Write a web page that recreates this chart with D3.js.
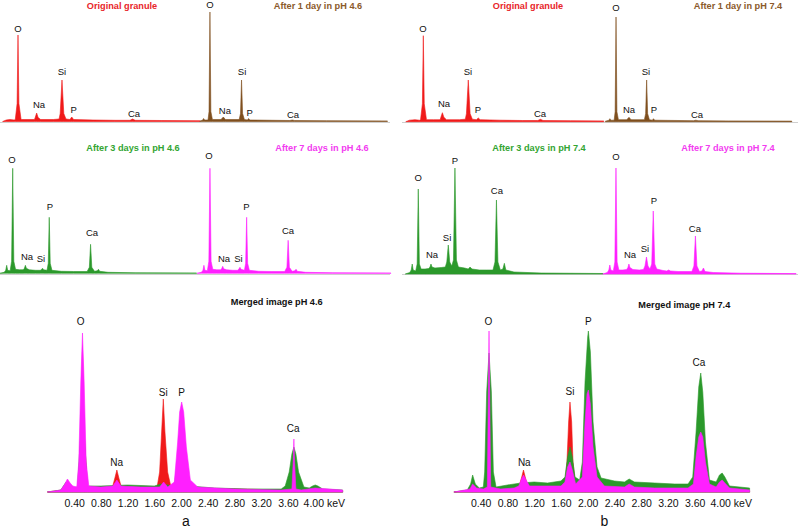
<!DOCTYPE html>
<html><head><meta charset="utf-8">
<script src="https://cdn.jsdelivr.net/npm/d3@7"></script>
<style>body{margin:0;background:#fff} svg{display:block;font-family:"Liberation Sans",Arial,sans-serif}</style>
</head><body><svg id="c" width="798" height="529"></svg>
<script>
// ---------- DATA (keV, relative counts) ----------
const origLeft = [[0.1,0],[0.2,1.5],[0.3,2],[0.42,1.5],[0.45,2],[0.50,18],[0.525,86.5],[0.55,18],[0.61,2],[0.8,2],[0.98,2],[1.0,4],[1.04,8.5],[1.08,4],[1.15,2],[1.5,2],[1.66,2.5],[1.69,8],[1.74,41.5],[1.79,8],[1.85,2.5],[1.96,2],[2.01,4.5],[2.06,2],[2.6,1.5],[3.2,1.2],[3.62,1.2],[3.69,2.5],[3.76,1.2],[4.5,1],[5.55,0.8]];
const day1Left = [[0.14,0.5],[0.25,1.5],[0.28,3],[0.32,1.5],[0.45,1.5],[0.49,10],[0.525,109.5],[0.56,10],[0.62,2],[0.95,2],[1.04,4.5],[1.12,2],[1.65,2],[1.7,8],[1.74,41.5],[1.78,8],[1.85,2],[1.97,1.5],[2.01,3],[2.06,1.5],[3.6,1],[3.69,1.5],[3.78,1],[5,0.8],[7.35,0.6]];
const origRight = [[0.05,0],[0.15,1.5],[0.3,2],[0.42,1.5],[0.45,2],[0.50,18],[0.525,86],[0.55,18],[0.61,2],[0.8,2],[0.98,2],[1.0,4.5],[1.04,9],[1.08,4.5],[1.15,2],[1.5,2],[1.66,2.5],[1.69,8],[1.74,41.7],[1.79,8],[1.85,2.5],[1.96,2],[2.01,3.7],[2.06,2],[2.6,1.5],[3.2,1.2],[3.62,1.2],[3.69,2.4],[3.76,1.2],[4.5,1],[5.4,0.8]];
const day1Right = [[0.1,0.5],[0.25,1.5],[0.28,3],[0.32,1.5],[0.45,1.5],[0.49,10],[0.525,104.7],[0.56,10],[0.62,2],[0.95,2],[1.04,4.4],[1.12,2],[1.65,2],[1.7,8],[1.74,41.7],[1.78,8],[1.85,2],[1.97,1.5],[2.01,3],[2.06,1.5],[3.6,1],[3.69,1.5],[3.78,1],[5,0.8],[7.5,0.6]];
const day3Left = [[0.0,0],[0.18,1],[0.24,3],[0.28,8],[0.32,3],[0.42,2.5],[0.48,12],[0.525,105],[0.57,12],[0.64,4],[0.8,3.5],[0.95,3.5],[1.0,5],[1.04,8],[1.08,5],[1.2,3.5],[1.45,3],[1.65,3],[1.7,4],[1.74,5],[1.78,3.5],[1.92,3],[1.97,10],[2.01,56],[2.05,10],[2.12,3],[2.5,2],[3.0,1.8],[3.55,1.8],[3.64,6],[3.69,29],[3.74,6],[3.85,2],[3.96,2.5],[4.01,4],[4.06,2],[4.4,1],[5.5,0.5],[8,0.3]];
const day7Left = [[0.0,0],[0.18,1],[0.24,3],[0.28,8],[0.32,3],[0.42,2.5],[0.48,12],[0.525,105],[0.57,12],[0.64,4],[0.8,3.5],[0.95,3.5],[1.0,4.5],[1.04,7],[1.08,4.5],[1.2,3.5],[1.45,3],[1.65,3],[1.7,4.5],[1.74,6],[1.78,4],[1.92,3],[1.97,10],[2.01,56],[2.05,10],[2.12,3],[2.5,2],[3.0,1.8],[3.55,1.8],[3.64,6],[3.69,33],[3.74,6],[3.85,2],[3.96,2.5],[4.01,4],[4.06,2],[4.4,1],[5.5,0.5],[7.85,0.3]];
const day3Right = [[0.0,0],[0.18,1.5],[0.24,4],[0.28,10],[0.32,4],[0.42,3],[0.48,10],[0.525,85],[0.57,10],[0.64,5],[0.8,5],[0.95,5.5],[1.0,7],[1.04,10],[1.08,7],[1.2,6],[1.45,6.5],[1.62,7],[1.68,12],[1.74,29],[1.8,12],[1.88,8],[1.95,14],[2.01,106],[2.07,14],[2.15,7],[2.4,6],[2.55,5],[2.62,7],[2.7,5],[3.0,4],[3.3,4],[3.55,4],[3.63,12],[3.69,74],[3.75,12],[3.85,4],[3.95,5],[4.01,10.7],[4.07,4],[4.4,2],[5.5,1],[8,0.5]];
const day7Right = [[0.0,0],[0.18,1.5],[0.24,4],[0.28,9],[0.32,4],[0.42,3],[0.48,12],[0.525,106],[0.57,12],[0.64,4],[0.8,4],[0.95,4.5],[1.0,6.5],[1.04,10],[1.08,6.5],[1.2,4.5],[1.45,4],[1.62,4.5],[1.68,8],[1.74,17],[1.8,8],[1.88,5],[1.95,10],[2.01,63],[2.07,10],[2.15,5],[2.4,3.5],[2.55,3],[2.62,4],[2.7,3],[3.0,2.5],[3.55,2.5],[3.63,8],[3.69,38],[3.75,8],[3.85,2.5],[3.95,3],[4.01,6],[4.07,2.5],[4.4,1.5],[5.5,0.8],[7.7,0.4]];

const mergedLeftRed = [[0,0],[0.22,2],[0.28,6],[0.36,3],[0.47,3],[0.5,60],[0.525,140],[0.55,60],[0.6,3],[0.9,3],[0.97,4],[1.01,14],[1.04,22],[1.07,14],[1.11,4],[1.5,3],[1.64,4],[1.68,20],[1.71,60],[1.735,93],[1.76,60],[1.8,20],[1.85,5],[1.95,4],[2.01,7],[2.08,4],[3.6,2],[3.69,6],[3.78,2],[4.42,1]];
const mergedLeftGreen = [[0,0],[0.2,2],[0.28,10],[0.36,4],[0.45,5],[0.5,60],[0.525,100],[0.55,60],[0.6,6],[0.8,6],[1.2,7],[1.6,6],[1.7,8],[1.9,6],[1.96,40],[2.01,80],[2.06,40],[2.12,6],[2.5,4],[3.0,3],[3.5,3],[3.56,6],[3.62,20],[3.66,38],[3.69,45],[3.72,38],[3.76,20],[3.84,5],[3.92,4],[3.97,6],[4.01,7],[4.05,6],[4.12,3],[4.42,2]];
const mergedLeftMagenta = [[0,0],[0.2,2],[0.26,8],[0.3,13],[0.34,9],[0.38,6],[0.44,5],[0.47,30],[0.5,110],[0.525,159],[0.55,110],[0.58,30],[0.62,6],[0.8,5],[0.98,6],[1.04,12],[1.1,6],[1.4,5],[1.68,5],[1.74,10],[1.8,5],[1.9,10],[1.95,50],[1.98,80],[2.01,90],[2.04,80],[2.08,45],[2.14,12],[2.25,5],[2.8,3],[3.5,2],[3.66,3],[3.68,30],[3.69,53],[3.70,30],[3.72,3],[3.8,2],[4.01,4],[4.42,2]];
const mergedRightRed = [[0,0],[0.24,2],[0.28,4],[0.34,2],[0.49,3],[0.51,50],[0.525,100],[0.54,50],[0.56,3],[0.9,3],[0.97,5],[1.01,14],[1.04,22],[1.07,14],[1.11,5],[1.6,4],[1.66,8],[1.69,30],[1.715,70],[1.735,90],[1.76,70],[1.78,30],[1.82,6],[1.96,5],[2.01,8],[2.06,5],[3.6,3],[3.69,6],[3.78,3],[4.42,1]];
const mergedRightGreen = [[0,0],[0.2,2],[0.25,8],[0.28,17],[0.32,8],[0.38,4],[0.44,5],[0.46,20],[0.49,100],[0.525,139],[0.56,100],[0.59,20],[0.63,5],[0.8,7],[1.0,9],[1.2,10],[1.4,9],[1.6,11],[1.66,15],[1.7,35],[1.735,45],[1.77,35],[1.81,15],[1.88,12],[1.92,30],[1.96,110],[2.0,155],[2.01,161],[2.04,140],[2.08,70],[2.14,25],[2.2,14],[2.4,11],[2.55,10],[2.62,13],[2.7,10],[3.0,9],[3.3,8],[3.5,8],[3.57,15],[3.62,60],[3.66,105],[3.69,119],[3.72,100],[3.76,50],[3.82,12],[3.92,10],[3.97,17],[4.01,19],[4.05,15],[4.12,6],[4.42,4]];
const mergedRightMagenta = [[0,0],[0.24,3],[0.28,8],[0.34,4],[0.44,3],[0.5,5],[0.515,100],[0.525,161],[0.535,100],[0.55,5],[0.7,3],[0.9,4],[0.97,6],[1.01,13],[1.04,17],[1.08,12],[1.13,6],[1.3,6],[1.6,6],[1.66,10],[1.7,25],[1.735,30],[1.77,22],[1.82,8],[1.92,15],[1.96,70],[1.99,98],[2.01,102],[2.04,88],[2.08,45],[2.14,15],[2.25,6],[2.55,5],[2.62,8],[2.7,5],[3.0,4],[3.5,4],[3.58,8],[3.62,35],[3.66,55],[3.69,60],[3.72,55],[3.76,30],[3.82,8],[3.92,5],[3.97,10],[4.01,12],[4.05,9],[4.12,4],[4.42,2]];

// element labels: [text, keV, level]
const labOrigLeft = [["O",0.525,90],["Na",1.105,14],["Si",1.74,47],["P",2.06,9],["Ca",3.73,5]];
const labDay1Left = [["O",0.527,114],["Na",1.10,8],["Si",1.76,47],["P",2.05,6],["Ca",3.72,4]];
const labOrigRight = [["O",0.516,90],["Na",1.084,15],["Si",1.73,47],["P",2.00,9],["Ca",3.68,5]];
const labDay1Right = [["O",0.524,111],["Na",1.04,9],["Si",1.714,47],["P",2.03,9],["Ca",3.74,4]];
const labDay3Left = [["O",0.496,110],["Na",1.106,13],["Si",1.675,11],["P",2.04,63],["Ca",3.75,37]];
const labDay7Left = [["O",0.486,114],["Na",1.093,11],["Si",1.68,11],["P",2.00,63],["Ca",3.684,39]];
const labDay3Right = [["O",0.526,93.5],["Na",1.08,16],["Si",1.69,33.5],["P",2.01,110.5],["Ca",3.71,80]];
const labDay7Right = [["O",0.526,114.5],["Na",1.084,16],["Si",1.68,22.5],["P",2.04,70],["Ca",3.67,42.5]];
const labMergedLeft = [["O",0.4985,167],["Na",1.037,26.5],["Si",1.735,96],["P",2.01,96],["Ca",3.68,60.5]];
const labMergedRight = [["O",0.514,167],["Na",1.052,26.5],["Si",1.735,97],["P",2.01,167],["Ca",3.664,126]];

const tickValues = [0.4,0.8,1.2,1.6,2.0,2.4,2.8,3.2,3.6,4.0];
const smallTitles = ["Original granule","After 1 day in pH 4.6","Original granule","After 1 day in pH 7.4","After 3 days in pH 4.6","After 7 days in pH 4.6","After 3 days in pH 7.4","After 7 days in pH 7.4"];
const mergedTitles = ["Merged image pH 4.6","Merged image pH 7.4"];
const panelLetters = ["a","b"];

// ---------- DRAW ----------
const C = {red:"#f01a1a", brown:"#7f4f1e", green:"#2b992b", magenta:"#ff1fff"};
const T = {red:"#e8262a", brown:"#8b5a2b", green:"#33a532", magenta:"#f23cf0"};
const svg = d3.select("#c");

[[0,390,122.5],[402,798,122.5],[0,390,274.5],[402,798,274.5]].forEach(([a,b,y])=>{
  svg.append("line").attr("x1",a).attr("x2",b).attr("y1",y).attr("y2",y).attr("stroke","#cfcfcf").attr("stroke-width",1);
});

const small = [
 {d:origLeft, l:labOrigLeft, x0:-1, k:36.2, base:121.5, emax:5.55, c:"red", t:0, tx:122, ty:8.5},
 {d:day1Left, l:labDay1Left, x0:196.3, k:26, base:121.5, emax:7.35, c:"brown", t:1, tx:318, ty:8.5},
 {d:origRight, l:labOrigRight, x0:403.9, k:37, base:121.7, emax:5.4, c:"red", t:2, tx:528, ty:8.5},
 {d:day1Right, l:labDay1Right, x0:602.8, k:25.2, base:121.7, emax:7.5, c:"brown", t:3, tx:738, ty:8.5},
 {d:day3Left, l:labDay3Left, x0:-0.2, k:24.6, base:273.3, emax:8.0, c:"green", t:4, tx:133, ty:150.5},
 {d:day7Left, l:labDay7Left, x0:197, k:24.7, base:273.3, emax:7.85, c:"magenta", t:5, tx:322, ty:150.5},
 {d:day3Right, l:labDay3Right, x0:405.3, k:24.7, base:274, emax:8.0, c:"green", t:6, tx:539, ty:150.5},
 {d:day7Right, l:labDay7Right, x0:602.8, k:25.1, base:274, emax:7.7, c:"magenta", t:7, tx:728, ty:150.5}
];

function drawLabels(g, labels, xs, ys, size){
  g.selectAll("text.el").data(labels).enter().append("text").attr("class","el")
   .attr("x",d=>xs(d[1])).attr("y",d=>ys(d[2])).attr("text-anchor","middle")
   .attr("font-size",size).attr("fill","#111").text(d=>d[0]);
}

small.forEach(p=>{
  const xs = d3.scaleLinear().domain([0,p.emax]).range([p.x0, p.x0+p.k*p.emax]);
  const ys = d3.scaleLinear().domain([0,120]).range([p.base, p.base-120]);
  const g = svg.append("g");
  const area = d3.area().x(d=>xs(d[0])).y0(p.base).y1(d=>ys(d[1]));
  g.append("path").datum(p.d).attr("d",area).attr("fill",C[p.c]).attr("stroke",C[p.c]).attr("stroke-width",0.6).attr("stroke-linejoin","round");
  drawLabels(g, p.l, xs, ys, 9.5);
  svg.append("text").attr("x",p.tx).attr("y",p.ty).attr("text-anchor","middle").attr("font-size",9.2)
    .attr("font-weight","bold").attr("fill",T[p.c]).text(smallTitles[p.t]);
});

const merged = [
 {s:[[mergedLeftRed,"red"],[mergedLeftGreen,"green"],[mergedLeftMagenta,"magenta"]], l:labMergedLeft, x0:47.4, k:66.8, tx:276.7, ty:305, lx:186, i:0},
 {s:[[mergedRightRed,"red"],[mergedRightGreen,"green"],[mergedRightMagenta,"magenta"]], l:labMergedRight, x0:453.9, k:66.9, tx:684.3, ty:307.5, lx:604.5, i:1}
];
const mBase = 492;
merged.forEach(p=>{
  const emax = 4.42;
  const xs = d3.scaleLinear().domain([0,emax]).range([p.x0, p.x0+p.k*emax]);
  const ys = d3.scaleLinear().domain([0,170]).range([mBase, mBase-170]);
  const g = svg.append("g");
  const ax = g.append("g").attr("transform",`translate(0,${mBase})`)
    .call(d3.axisBottom(xs).tickValues(tickValues).tickSize(0).tickPadding(7.5).tickFormat(d3.format(".2f")));
  ax.select(".domain").attr("stroke","#b9b9b9").attr("stroke-width",1);
  ax.selectAll("text").attr("font-size",10.5).attr("fill","#111").attr("font-family","Liberation Sans, Arial, sans-serif");
  ax.selectAll(".tick").filter(d=>d===4.0).select("text").attr("text-anchor","start").attr("x",-11.5).text("4.00 keV");
  p.s.forEach(([data,c])=>{
    const area = d3.area().x(d=>xs(d[0])).y0(mBase).y1(d=>ys(d[1]));
    g.append("path").datum(data).attr("d",area).attr("fill",C[c]).attr("stroke",C[c]).attr("stroke-width",0.6).attr("stroke-linejoin","round");
  });
  drawLabels(g, p.l, xs, ys, 10);
  svg.append("text").attr("x",p.tx).attr("y",p.ty).attr("text-anchor","middle").attr("font-size",9.2)
    .attr("font-weight","bold").attr("fill","#111").text(mergedTitles[p.i]);
  svg.append("text").attr("x",p.lx).attr("y",525.5).attr("text-anchor","middle").attr("font-size",14).attr("fill","#111").text(panelLetters[p.i]);
});
</script></body></html>
